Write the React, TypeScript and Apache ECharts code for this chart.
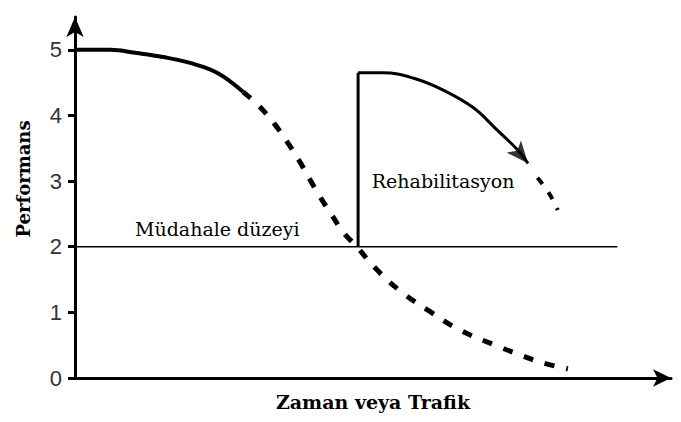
import React, { useEffect, useRef } from "react";
import * as echarts from "echarts";

// Performance curve of a pavement over time/traffic
const mainSolid: [number, number][] = [
  [0, 5.0], [5.87, 5.0], [10.4, 4.95], [14.77, 4.89], [19.3, 4.8], [23.83, 4.65], [28.19, 4.36],
];
const mainDashed: [number, number][] = [
  [28.19, 4.36], [31.04, 4.13], [33.56, 3.86], [35.74, 3.58], [37.75, 3.29], [39.43, 3.02],
  [41.11, 2.76], [43.12, 2.48], [45.0, 2.22], [47.4, 1.99], [50.0, 1.71], [54.5, 1.33],
  [59.6, 1.01], [64.6, 0.73], [71.6, 0.46], [75.0, 0.34], [78.5, 0.23], [82.7, 0.14],
];
// Rehabilitation jump and the new performance curve
const rehabJump: [number, number][] = [[47.5, 2.0], [47.5, 4.65]];
const rehabSolid: [number, number][] = [
  [47.5, 4.65], [51.7, 4.65], [56.7, 4.57], [61.7, 4.39], [66.8, 4.12], [70.8, 3.78], [74.2, 3.48], [76.0, 3.27],
];
const rehabDashed: [number, number][] = [[77.6, 3.05], [79.5, 2.82], [81.0, 2.56]];
const rehabArrow: [number, number][] = [[76.0, 3.27]];
// Intervention level
const interventionLine: [number, number][] = [[0, 2], [91, 2]];
const yTicks = [0, 1, 2, 3, 4, 5];

const serif = "DejaVu Serif";

export default function App() {
  const ref = useRef<HTMLDivElement>(null);
  useEffect(() => {
    if (!ref.current) return;
    const chart = echarts.init(ref.current, null, { renderer: "svg" });
    const black = "#000";
    chart.setOption({
      animation: false,
      backgroundColor: "#fff",
      grid: { left: 75, top: 17, width: 596, height: 361 },
      xAxis: {
        type: "value",
        min: 0,
        max: 100,
        name: "Zaman veya Trafik",
        nameLocation: "middle",
        nameGap: 14,
        nameTextStyle: { fontFamily: serif, fontWeight: "bold", fontSize: 19, color: black, verticalAlign: "top" },
        axisLine: { show: true, symbol: ["none", "arrow"], symbolSize: [13, 18], lineStyle: { color: black, width: 3 } },
        axisTick: { show: false },
        axisLabel: { show: false },
        splitLine: { show: false },
      },
      yAxis: {
        type: "value",
        min: 0,
        max: 5.5,
        interval: 1,
        axisLine: { show: true, symbol: ["none", "arrow"], symbolSize: [13, 20], lineStyle: { color: black, width: 3 } },
        axisTick: { show: true, inside: false, length: 7, customValues: yTicks, lineStyle: { color: black, width: 3 } },
        axisLabel: {
          show: true,
          customValues: yTicks,
          margin: 13,
          fontFamily: "Liberation Sans",
          fontSize: 22,
          color: "#333",
        },
        splitLine: { show: false },
      },
      graphic: [
        {
          type: "text",
          x: 23,
          y: 179,
          rotation: Math.PI / 2,
          style: {
            text: "Performans",
            fontFamily: serif,
            fontWeight: "bold",
            fontSize: 18,
            fill: black,
            align: "center",
            verticalAlign: "middle",
          },
        },
      ],
      series: [
        {
          type: "line",
          data: interventionLine,
          symbol: "none",
          lineStyle: { color: black, width: 1.5 },
          markPoint: {
            symbol: "circle",
            symbolSize: 0,
            data: [{ coord: [10.07, 2.27], value: "Müdahale düzeyi" }],
            label: {
              show: true,
              position: "right",
              distance: 0,
              formatter: "{c}",
              fontFamily: serif,
              fontSize: 19,
              color: black,
            },
          },
        },
        {
          type: "line",
          data: mainSolid,
          symbol: "none",
          smooth: 0.4,
          lineStyle: { color: black, width: 4 },
        },
        {
          type: "line",
          data: mainDashed,
          symbol: "none",
          smooth: 0.4,
          lineStyle: { color: black, width: 5, type: [10, 12], cap: "butt" },
        },
        {
          type: "line",
          data: rehabJump,
          symbol: "none",
          lineStyle: { color: black, width: 3 },
        },
        {
          type: "line",
          data: rehabSolid,
          symbol: "none",
          smooth: 0.4,
          lineStyle: { color: black, width: 3 },
          markPoint: {
            symbol: "circle",
            symbolSize: 0,
            data: [{ coord: [49.8, 3.0], value: "Rehabilitasyon" }],
            label: {
              show: true,
              position: "right",
              distance: 0,
              formatter: "{c}",
              fontFamily: serif,
              fontSize: 19,
              color: black,
            },
          },
        },
        {
          type: "line",
          data: rehabDashed,
          symbol: "none",
          smooth: 0.4,
          lineStyle: { color: black, width: 4, type: [8, 10], cap: "butt" },
        },
        {
          type: "scatter",
          data: rehabArrow,
          symbol: "arrow",
          symbolSize: [14, 22],
          symbolRotate: -140,
          itemStyle: { color: black },
        },
      ],
    });
    return () => chart.dispose();
  }, []);
  return <div ref={ref} style={{ position: "fixed", left: 0, top: 0, width: 681, height: 422 }} />;
}
